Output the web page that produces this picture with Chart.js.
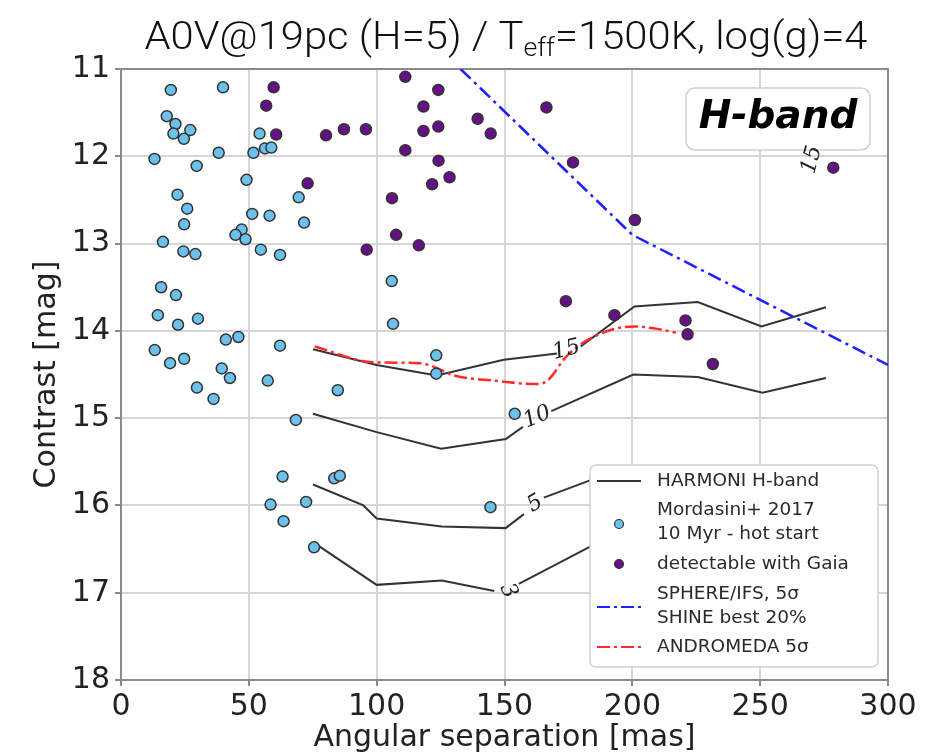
<!DOCTYPE html>
<html lang="en">
  <head>
    <meta charset="UTF-8" />
    <title>H-band contrast</title>
    <script src="https://cdn.jsdelivr.net/npm/chart.js"></script>
    <style>
      body {
        margin: 0;
        background: #fff;
      }
      .chart-box {
        width: 950px;
        height: 756px;
      }
    </style>
  </head>
  <body>
    <div class="chart-box">
      <canvas id="myChart" width="950" height="756"></canvas>
    </div>
    <script>
      // Mordasini+ 2017, 10 Myr hot start planets (separation mas, contrast mag)
      const mordX = [19.5, 39.9, 17.9, 21.3, 27.1, 20.5, 24.6, 54.2, 56.3, 58.8, 38.2, 51.8, 13.1, 29.6, 49.1, 69.5, 22.1, 25.9, 51.3, 58.1, 71.6, 24.7, 47.2, 44.8, 48.7, 16.4, 54.7, 62.2, 24.4, 29.1, 15.7, 21.5, 14.4, 22.3, 30.1, 41.0, 45.9, 62.2, 13.2, 19.2, 24.7, 39.4, 42.6, 57.4, 29.7, 36.2, 84.8, 68.4, 63.2, 83.4, 85.6, 58.5, 72.4, 63.6, 75.5, 123.3, 123.3, 105.9, 106.4, 154.0, 144.5];
      const mordY = [11.24, 11.21, 11.54, 11.63, 11.7, 11.74, 11.8, 11.74, 11.91, 11.9, 11.96, 11.96, 12.03, 12.11, 12.27, 12.47, 12.44, 12.6, 12.66, 12.68, 12.76, 12.78, 12.84, 12.9, 12.95, 12.98, 13.07, 13.13, 13.09, 13.12, 13.5, 13.59, 13.82, 13.93, 13.86, 14.1, 14.07, 14.17, 14.22, 14.37, 14.32, 14.43, 14.54, 14.57, 14.65, 14.78, 14.68, 15.02, 15.67, 15.69, 15.66, 15.99, 15.96, 16.18, 16.48, 14.28, 14.49, 13.43, 13.92, 14.95, 16.02];

      // detectable with Gaia
      const gaiaX = [59.7, 56.8, 60.7, 80.2, 73.0, 111.2, 124.1, 118.3, 139.5, 144.6, 87.2, 95.8, 118.3, 124.1, 111.2, 124.2, 128.5, 121.7, 106.0, 107.6, 116.5, 96.1, 166.4, 176.8, 201.0, 278.6, 174.0, 193.0, 220.8, 221.6, 231.5];
      const gaiaY = [11.21, 11.42, 11.75, 11.76, 12.31, 11.09, 11.24, 11.43, 11.57, 11.74, 11.69, 11.69, 11.71, 11.66, 11.93, 12.05, 12.24, 12.32, 12.48, 12.9, 13.02, 13.07, 11.44, 12.07, 12.73, 12.13, 13.66, 13.82, 13.88, 14.04, 14.38];

      // HARMONI contours (null = gap where the contour label sits)
      const c15X = [75.1, 100, 123.5, 149.7, 170.6, 175, 179.8, 200.8, 225.6, 250.5, 275.7];
      const c15Y = [14.21, 14.39, 14.51, 14.33, 14.26, null, 14.18, 13.72, 13.67, 13.95, 13.73];
      const c10X = [75.1, 100, 125.2, 150.5, 157.2, 162, 168.3, 200.4, 225.6, 250.9, 275.7];
      const c10Y = [14.95, 15.16, 15.35, 15.24, 15.1, null, 14.92, 14.5, 14.53, 14.71, 14.54];
      const c5X = [75.1, 94.8, 100, 125.5, 150.4, 157.6, 161, 165.4, 183.7];
      const c5Y = [15.76, 16.0, 16.15, 16.24, 16.26, 16.1, null, 15.91, 15.71];
      const c3X = [75.1, 100, 125.5, 146, 151, 155.6, 183.7];
      const c3Y = [16.42, 16.91, 16.86, 16.98, null, 16.9, 16.47];

      // SPHERE/IFS 5 sigma, SHINE best 20%
      const sphereX = [132.8, 200, 300];
      const sphereY = [11.0, 12.9, 14.39];

      // ANDROMEDA 5 sigma
      const andX = [75.8, 98.7, 117, 122.2, 130.1, 145.8, 162.8, 166.8, 174.6, 187.7, 200.7, 208.2, 217.1];
      const andY = [14.18, 14.36, 14.37, 14.41, 14.51, 14.57, 14.61, 14.57, 14.28, 14.03, 13.95, 13.97, 14.02];

      // contour labels: text, x, y, rotation (deg)
      const labelText = ["15", "10", "5", "3", "15"];
      const labelX = [174.2, 162.8, 162.0, 151.4, 270.3];
      const labelY = [14.22, 14.99, 15.98, 16.98, 12.04];
      const labelRot = [-14, -22, -30, 65, -75];

      const pts = function (xs, ys) {
        return xs.map(function (x, i) {
          return { x: x, y: ys[i] };
        });
      };

      const contourStyle = {
        showLine: true,
        pointRadius: 0,
        borderColor: "#333",
        borderWidth: 2,
        spanGaps: false,
        order: 5,
      };

      const framePlugin = {
        id: "frame",
        beforeDatasetsDraw(chart) {
          const a = chart.chartArea;
          const c = chart.ctx;
          c.save();
          c.strokeStyle = "#8a8a8a";
          c.lineWidth = 2;
          c.strokeRect(a.left, a.top, a.right - a.left, a.bottom - a.top);
          c.restore();
        },
        afterDraw(chart) {
          const c = chart.ctx;
          c.save();

          // title with subscript
          const parts = [
            ["A0V@19pc (H=5) / T", 39, 0],
            ["eff", 25, 7],
            ["=1500K, log(g)=4", 39, 0],
          ];
          let w = 0;
          parts.forEach(function (p) {
            c.font = "300 " + p[1] + "px Roboto, 'Liberation Sans'";
            p.push(c.measureText(p[0]).width);
            w += p[3];
          });
          const sx = 723 / w;
          c.translate(506 - 723 / 2, 49);
          c.scale(sx, 1);
          c.fillStyle = "#111";
          c.textBaseline = "alphabetic";
          let px = 0;
          parts.forEach(function (p) {
            c.font = "300 " + p[1] + "px Roboto, 'Liberation Sans'";
            c.fillText(p[0], px, p[2]);
            px += p[3];
          });
          c.setTransform(1, 0, 0, 1, 0, 0);

          // H-band box
          c.beginPath();
          c.roundRect(686, 88, 184, 62, 9);
          c.fillStyle = "#fff";
          c.fill();
          c.strokeStyle = "#d0d0d0";
          c.lineWidth = 1.5;
          c.stroke();
          c.font = "bold italic 39px 'DejaVu Sans'";
          c.fillStyle = "#000";
          c.textAlign = "center";
          c.textBaseline = "middle";
          c.fillText("H-band", 778, 118);

          // contour labels
          const xs = chart.scales.x;
          const ys = chart.scales.y;
          c.font = "italic 22px 'DejaVu Serif'";
          c.fillStyle = "#222";
          labelText.forEach(function (t, i) {
            c.save();
            c.translate(xs.getPixelForValue(labelX[i]), ys.getPixelForValue(labelY[i]));
            c.rotate((labelRot[i] * Math.PI) / 180);
            c.fillText(t, 0, 0);
            c.restore();
          });

          // legend
          c.beginPath();
          c.roundRect(590, 465, 288, 202, 6);
          c.fillStyle = "#fff";
          c.fill();
          c.strokeStyle = "#d0d0d0";
          c.stroke();
          c.textAlign = "left";
          c.font = "18.5px 'DejaVu Sans'";
          const line = function (y, color, dash) {
            c.beginPath();
            c.setLineDash(dash);
            c.strokeStyle = color;
            c.lineWidth = 2;
            c.moveTo(597, y);
            c.lineTo(641, y);
            c.stroke();
            c.setLineDash([]);
          };
          const dot = function (y, color) {
            c.beginPath();
            c.arc(619, y, 4.5, 0, Math.PI * 2);
            c.fillStyle = color;
            c.fill();
            c.strokeStyle = "#333";
            c.lineWidth = 1.2;
            c.stroke();
          };
          line(481, "#333", []);
          dot(524, "#6cc1ec");
          dot(564, "#661088");
          line(607, "#1f1fff", [13, 4, 3, 4]);
          line(647, "#ff2a2a", [13, 4, 3, 4]);
          c.fillStyle = "#2a2a2a";
          c.fillText("HARMONI H-band", 657, 481);
          c.fillText("Mordasini+ 2017", 657, 510);
          c.fillText("10 Myr - hot start", 657, 534);
          c.fillText("detectable with Gaia", 657, 564);
          c.fillText("SPHERE/IFS, 5\u03c3", 657, 594);
          c.fillText("SHINE best 20%", 657, 618);
          c.fillText("ANDROMEDA 5\u03c3", 657, 647);
          c.restore();
        },
      };

      const ctx = document.getElementById("myChart");
      const myChart = new Chart(ctx, {
        type: "scatter",
        data: {
          datasets: [
            {
              label: "Mordasini+ 2017 10 Myr - hot start",
              data: pts(mordX, mordY),
              backgroundColor: "#6cc1ec",
              borderColor: "#333",
              borderWidth: 1.5,
              pointRadius: 5.5,
              order: 1,
            },
            {
              label: "detectable with Gaia",
              data: pts(gaiaX, gaiaY),
              backgroundColor: "#661088",
              borderColor: "#333",
              borderWidth: 1.5,
              pointRadius: 5.5,
              order: 1,
            },
            Object.assign({ label: "HARMONI H-band", data: pts(c15X, c15Y) }, contourStyle),
            Object.assign({ label: "c10", data: pts(c10X, c10Y) }, contourStyle),
            Object.assign({ label: "c5", data: pts(c5X, c5Y) }, contourStyle),
            Object.assign({ label: "c3", data: pts(c3X, c3Y) }, contourStyle),
            {
              label: "SPHERE/IFS, 5\u03c3 SHINE best 20%",
              data: pts(sphereX, sphereY),
              showLine: true,
              pointRadius: 0,
              borderColor: "#1f1fff",
              borderWidth: 2.5,
              borderDash: [14, 5, 3, 5],
              order: 4,
            },
            {
              label: "ANDROMEDA 5\u03c3",
              data: pts(andX, andY),
              showLine: true,
              pointRadius: 0,
              borderColor: "#ff2a2a",
              borderWidth: 2.5,
              borderDash: [13, 4, 3, 4],
              cubicInterpolationMode: "monotone",
              order: 3,
            },
          ],
        },
        options: {
          responsive: false,
          animation: false,
          layout: { padding: { top: 69, right: 62, left: 0, bottom: 0 } },
          plugins: {
            legend: { display: false },
            tooltip: { enabled: false },
          },
          scales: {
            x: {
              type: "linear",
              min: 0,
              max: 300,
              afterFit: function (s) {
                s.height = 76;
              },
              ticks: {
                stepSize: 50,
                color: "#222",
                padding: 3,
                font: { family: "DejaVu Sans", size: 30 },
              },
              grid: { color: "#d6d6d6", lineWidth: 2, tickLength: 6, tickColor: "#888" },
              border: { display: false },
              title: {
                display: true,
                text: "Angular separation [mas]",
                color: "#222",
                font: { family: "DejaVu Sans", size: 30, lineHeight: 1.2 },
                padding: { top: 0, bottom: 0 },
              },
            },
            y: {
              type: "linear",
              min: 11,
              max: 18,
              reverse: true,
              afterFit: function (s) {
                s.width = 121;
              },
              ticks: {
                stepSize: 1,
                color: "#222",
                padding: 5,
                font: { family: "DejaVu Sans", size: 30 },
              },
              grid: { color: "#d6d6d6", lineWidth: 2, tickLength: 6, tickColor: "#888" },
              border: { display: false },
              title: {
                display: true,
                text: "Contrast [mag]",
                color: "#222",
                font: { family: "DejaVu Sans", size: 30, lineHeight: 1.2 },
                padding: { top: 29, bottom: 0 },
              },
            },
          },
        },
        plugins: [framePlugin],
      });
    </script>
  </body>
</html>
